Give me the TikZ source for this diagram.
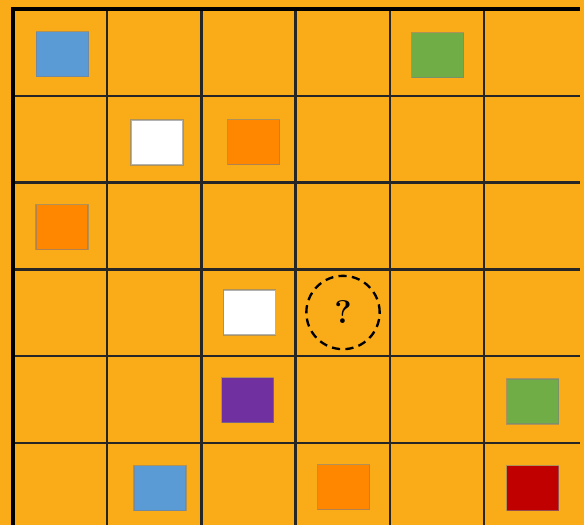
\documentclass[tikz,border=0pt]{standalone}
\usepackage{tikz}
\definecolor{board}{RGB}{250,172,24}
\definecolor{tileblue}{RGB}{91,155,213}
\definecolor{tilegreen}{RGB}{112,173,71}
\definecolor{tileorange}{RGB}{255,135,0}
\definecolor{tilepurple}{RGB}{112,48,160}
\definecolor{tilered}{RGB}{192,0,0}

\begin{document}
\begin{tikzpicture}[x=.03cm,y=-.03cm,
  gridline/.style={line width=2.2pt,black!85},
  frame/.style={line width=3pt,black},
  tile/.style={draw=black!50,draw opacity=.6,line width=1pt,inner sep=0pt,
    minimum width=1.56cm,minimum height=1.35cm},
  ask/.style={circle,draw,dash pattern=on 7pt off 4.5pt,line width=2pt,
    minimum size=2.2cm,inner sep=0pt,font=\bfseries\fontsize{28}{30}\selectfont}]
 \fill[board] (0,0) rectangle (584,525);
 \useasboundingbox (0,0) rectangle (584,525);
 % board lines
 \foreach \i in {1,...,5}
   \draw[gridline] ({13+94.2*\i},9) -- ({13+94.2*\i},525);
 \foreach \j in {1,...,5}
   \draw[gridline] (12,{9+86.8*\j}) -- (580,{9+86.8*\j});
 \draw[frame] (13,525) -- (13,9) -- (580,9);
 % coloured tiles
 \node[tile,fill=tileblue] (blueA) at (62.5,54) {};
 \node[tile,fill=tilegreen] (greenA) at (437.5,55) {};
 \node[tile,fill=white] (whiteA) at (157,142.5) {};
 \node[tile,fill=tileorange] (orangeA) at (253.5,142) {};
 \node[tile,fill=tileorange] (orangeB) at (62,227) {};
 \node[tile,fill=white] (whiteB) at (249.5,312.5) {};
 \node[tile,fill=tilepurple] (purple) at (247.5,400) {};
 \node[tile,fill=tilegreen] (greenB) at (532.5,401.5) {};
 \node[tile,fill=tileblue] (blueB) at (160,488) {};
 \node[tile,fill=tileorange] (orangeC) at (343.5,487) {};
 \node[tile,fill=tilered] (red) at (532.5,488) {};
 % missing tile
 \node[ask] (query) at (343,312.5) {?};
\end{tikzpicture}
\end{document}
